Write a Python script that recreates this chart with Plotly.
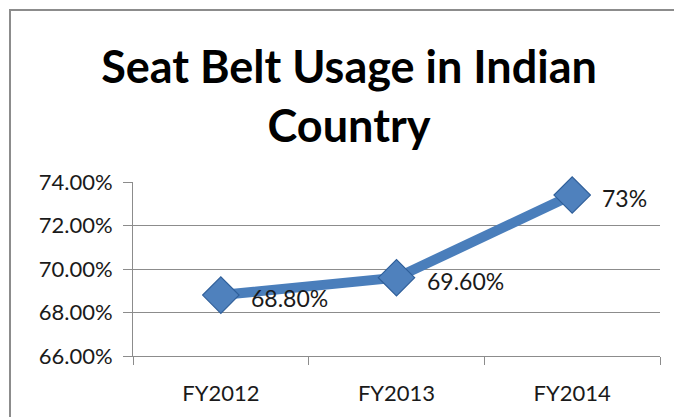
import plotly.graph_objects as go

categories = ["FY2012", "FY2013", "FY2014"]
usage = [68.8, 69.6, 73.4]
point_labels = ["68.80%", "69.60%", "73%"]
y_ticks = [66, 68, 70, 72, 74]
y_tick_labels = ["66.00%", "68.00%", "70.00%", "72.00%", "74.00%"]

W, H = 674, 417
L, R, T, B = 133, 14, 182, 61
pw, ph = W - L - R, H - T - B

FONT = "Lato"
TXT = "#1a1a1a"
GRID = "#8c8c8c"

fig = go.Figure()
fig.add_trace(go.Scatter(
    x=categories, y=usage,
    mode="lines+markers",
    line=dict(color="#4a7ebb", width=10),
    marker=dict(symbol="diamond", size=28, color="#4f81bd",
                line=dict(color="#2f5f9a", width=1.2)),
    cliponaxis=False,
    hoverinfo="skip",
))

for c, v, t in zip(categories, usage, point_labels):
    fig.add_annotation(x=c, y=v, text=t, showarrow=False,
                       xanchor="left", yanchor="middle",
                       xshift=28, yshift=-3,
                       font=dict(family=FONT, size=23, color=TXT))

def px_to_paper_x(px):
    return (px - L) / pw

def px_to_paper_y(py):
    return (H - B - py) / ph

fig.add_shape(type="rect", xref="paper", yref="paper",
              x0=px_to_paper_x(10), x1=px_to_paper_x(700),
              y0=px_to_paper_y(440), y1=px_to_paper_y(10),
              line=dict(color="#8c8c8c", width=2), fillcolor="rgba(0,0,0,0)",
              layer="below")

fig.update_layout(
    width=W, height=H,
    margin=dict(l=L, r=R, t=T, b=B, pad=0),
    paper_bgcolor="white", plot_bgcolor="white",
    showlegend=False,
    title=dict(text="Seat Belt Usage in Indian<br>Country",
               font=dict(family=FONT, size=45, color="#000000", weight="bold"),
               x=349 / W, xanchor="center", xref="container",
               y=1 - 83 / H, yanchor="top", yref="container"),
    xaxis=dict(
        type="category", range=[-0.5, 2.5],
        showgrid=False, zeroline=False,
        showline=True, linecolor=GRID, linewidth=1,
        ticks="outside", ticklen=8, tickcolor=GRID, tickwidth=1,
        tickson="boundaries",
        tickfont=dict(family=FONT, size=22, color=TXT),
        ticklabelstandoff=18,
        fixedrange=True,
    ),
    yaxis=dict(
        range=[66, 74],
        tickvals=y_ticks, ticktext=y_tick_labels,
        showgrid=True, gridcolor=GRID, gridwidth=1,
        zeroline=False,
        showline=True, linecolor=GRID, linewidth=1,
        ticks="outside", ticklen=9, tickcolor=GRID, tickwidth=1,
        tickfont=dict(family=FONT, size=22, color=TXT),
        ticklabelstandoff=6,
        fixedrange=True,
    ),
)

fig.write_html("out.html", config={"displayModeBar": False},
               post_script="document.body.style.margin='0';document.body.style.overflow='hidden';")
